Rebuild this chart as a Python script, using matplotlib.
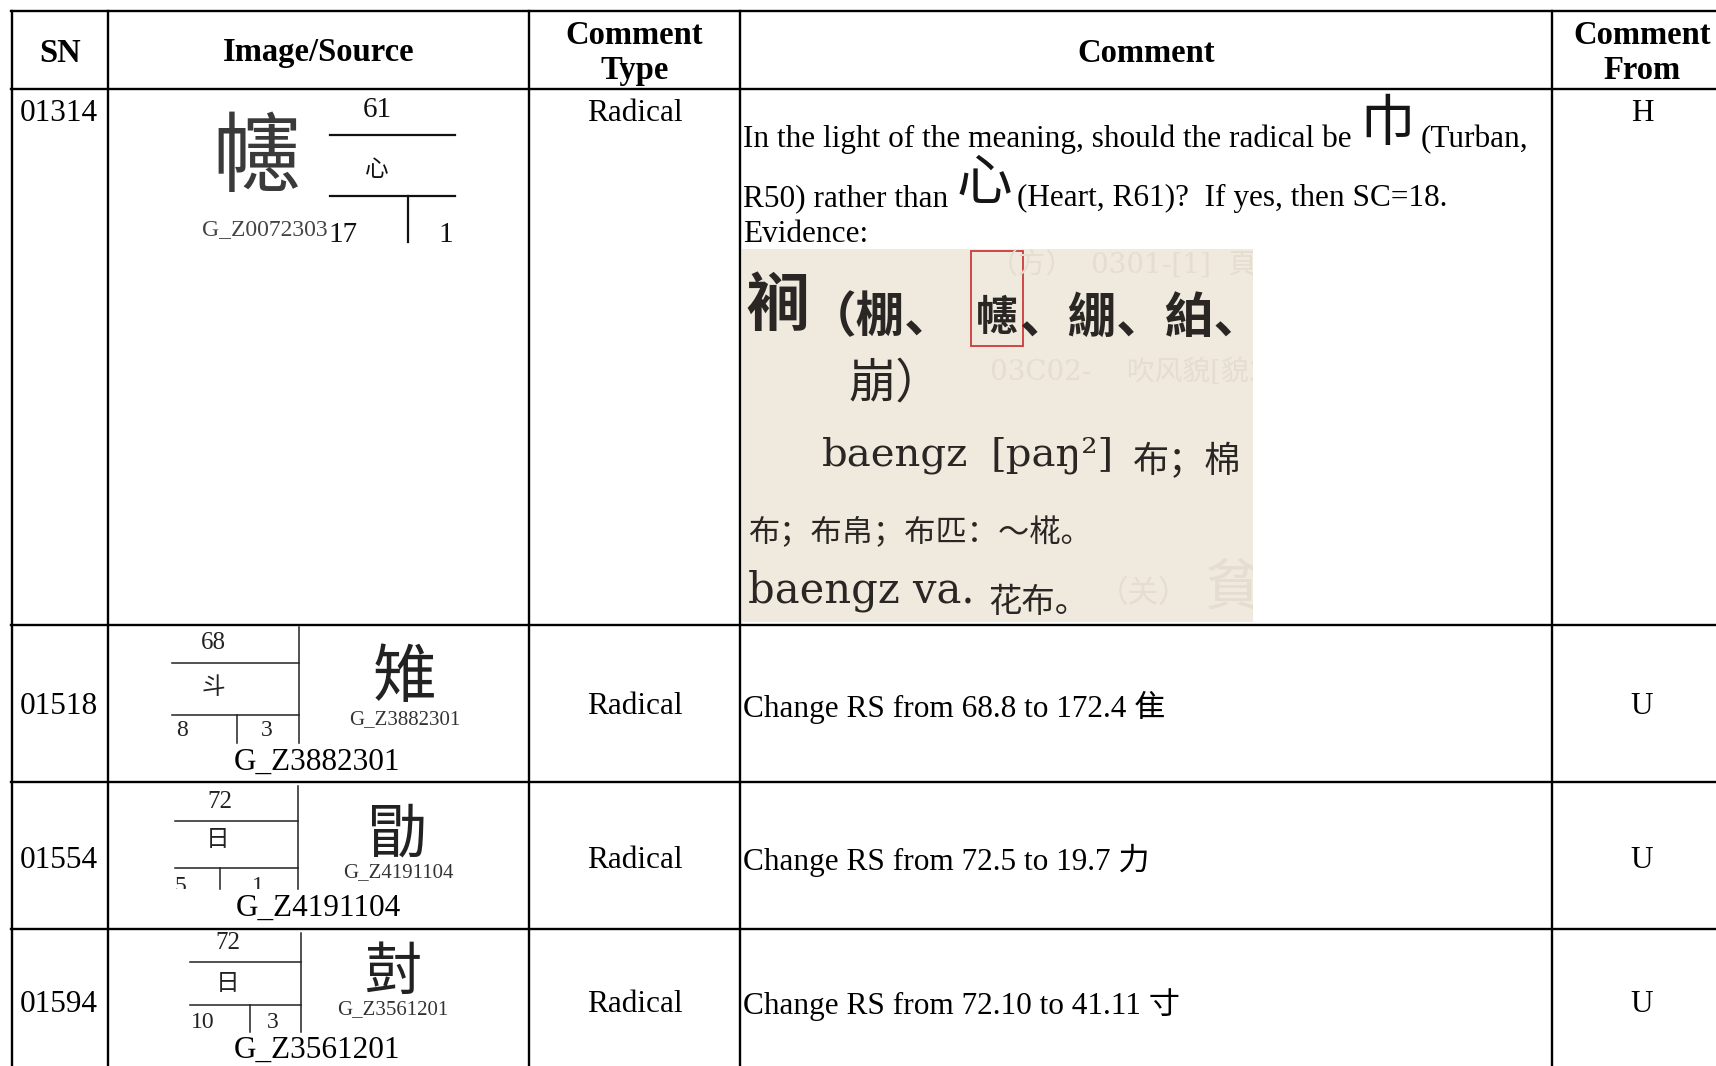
import matplotlib.pyplot as plt
from matplotlib.patches import Rectangle
from matplotlib.transforms import Bbox, TransformedBbox

plt.rcParams['font.family'] = ['Liberation Serif', 'Noto Sans CJK SC']

# ---- table content ----
headers = ["SN", "Image/Source", "Comment\nType", "Comment", "Comment\nFrom"]
sn = ["01314", "01518", "01554", "01594"]
source_codes = ["G_Z0072303", "G_Z3882301", "G_Z4191104", "G_Z3561201"]
glyphs = ["幰", "雉", "勖", "尌"]
rs_radical = ["61", "68", "72", "72"]
rs_radical_char = ["心", "斗", "日", "日"]
rs_strokes = ["17", "8", "5", "10"]
rs_first = ["1", "3", "1", "3"]
comment_type = ["Radical", "Radical", "Radical", "Radical"]
comments = [None,
            "Change RS from 68.8 to 172.4 隹",
            "Change RS from 72.5 to 19.7 力",
            "Change RS from 72.10 to 41.11 寸"]
comment_from = ["H", "U", "U", "U"]

# first comment has radical pictures inline ("g" pieces)
comment1_lines = [
    [("In the light of the meaning, should the radical be", "t"), ("巾", "g"), ("(Turban,", "t")],
    [("R50) rather than", "t"), ("心", "g"), ("(Heart, R61)?  If yes, then SC=18.", "t")],
    [("Evidence:", "t")],
]

# scanned dictionary entry used as evidence
ev_head = "裥"
ev_variants = ["（棚、", "幰", "、綳、絈、"]
ev_close = "崩）"
ev_roman = ["baengz", "[paŋ²]", "baengz va."]
ev_gloss = ["布；棉", "布；布帛；布匹：～椛。", "花布。"]
ev_faint = ["（方）  0301-[1]  頁", "03C02-    吹风貌[貌之一", "（关）", "貧"]

W, H = 1716, 1066
CJK = ['Noto Sans CJK SC']
BODY = 22.5

fig = plt.figure(figsize=(W / 100, H / 100), dpi=100)
ax = fig.add_axes([0, 0, 1, 1])
ax.set_xlim(0, W)
ax.set_ylim(H, 0)
ax.axis('off')
renderer = fig.canvas.get_renderer()

col_x = [12, 108, 529, 740, 1552, 1732]
row_y = [11, 89, 625, 782, 929, 1075]
col_mid = [(a + b) / 2 for a, b in zip(col_x[:-1], col_x[1:])]

# grid
for y in row_y[:-1]:
    ax.plot([col_x[0] - 1, W], [y, y], color='black', lw=1.7)
for x in col_x[:-1]:
    ax.plot([x, x], [row_y[0], H], color='black', lw=1.7)

# header
for cx, h in zip(col_mid, headers):
    ax.text(cx, 53, h, ha='center', va='center', fontsize=23.5,
            fontweight='bold', linespacing=1.15)

# plain cells
row_mid = [121, 707, 860, 1005]
for i in range(4):
    va = 'baseline' if i == 0 else 'center'
    y = row_mid[i]
    ax.text(20, y, sn[i], fontsize=BODY, va=va)
    ax.text(col_mid[2], y, comment_type[i], ha='center', fontsize=BODY, va=va)
    ax.text(col_mid[4], y, comment_from[i], ha='center', fontsize=BODY, va=va)
    if comments[i]:
        ax.text(743, y, comments[i], fontsize=BODY, va=va)

# first comment, flowed piece by piece
for base, line in zip([147, 206, 242], comment1_lines):
    x = 743
    for txt, kind in line:
        if kind == 't':
            t = ax.text(x, base, txt, fontsize=BODY, va='baseline')
            x += t.get_window_extent(renderer).width + 5
        else:
            t = ax.text(x + 3, base - 22, txt, family=CJK, fontsize=40,
                        fontweight='light', va='center', color='#151515')
            x += t.get_window_extent(renderer).width + 8

# evidence picture
ev_x0, ev_y0, ev_x1, ev_y1 = 742, 249, 1253, 622
ax.add_patch(Rectangle((ev_x0, ev_y0), ev_x1 - ev_x0, ev_y1 - ev_y0,
                       facecolor='#efe9de', edgecolor='none'))
ev_clip = TransformedBbox(Bbox([[ev_x0, ev_y0], [ev_x1, ev_y1]]), ax.transData)
faint_pos = [(990, 266, 20), (990, 372, 20), (1098, 594, 22), (1205, 590, 40)]
for s, (fx, fy, fs) in zip(ev_faint, faint_pos):
    t = ax.text(fx, fy, s, family=['DejaVu Serif', 'Noto Sans CJK SC'], fontsize=fs,
                va='center', color='#e4ddd0')
    t.set_clip_box(ev_clip)
    t.set_clip_on(True)
INKE = '#2a2623'
ax.text(777, 306, ev_head, family=CJK, fontsize=46, fontweight='bold',
        ha='center', va='center', color=INKE)
ax.text(808, 318, ev_variants[0], family=CJK, fontsize=35, fontweight='bold',
        va='center', color=INKE)
ax.text(997, 318, ev_variants[1], family=CJK, fontsize=30, fontweight='bold',
        ha='center', va='center', color=INKE)
ax.add_patch(Rectangle((971, 251), 52, 95, fill=False, edgecolor='#cc3b3b', lw=1.3))
ax.text(1019, 318, ev_variants[2], family=CJK, fontsize=35, fontweight='bold',
        va='center', color=INKE)
ax.text(848, 384, ev_close, family=CJK, fontsize=34, va='center', color=INKE)
ax.text(822, 466, ev_roman[0], family='DejaVu Serif', fontsize=29, va='baseline', color=INKE)
ax.text(990, 466, ev_roman[1], family='DejaVu Serif', fontsize=29, va='baseline', color=INKE)
ax.text(1133, 472, ev_gloss[0], family=CJK, fontsize=26, va='baseline', color=INKE)
ax.text(748, 533, ev_gloss[1], family=CJK, fontsize=22.5, va='center', color=INKE)
ax.text(748, 603, ev_roman[2], family='DejaVu Serif', fontsize=30, va='baseline', color=INKE)
ax.text(988, 612, ev_gloss[2], family=CJK, fontsize=24, va='baseline', color=INKE)

# image/source cell of the first row (glyph left, RS box right)
GRAY = '#3a3a3a'
ax.text(256, 160, glyphs[0], family=CJK, fontsize=63, fontweight='light',
        ha='center', va='center', color=GRAY)
ax.text(328, 230, source_codes[0], fontsize=17, ha='right', va='center', color='#444')
for yy in (135, 196):
    ax.plot([330, 455], [yy, yy], color='#111', lw=1.6)
ax.plot([408, 408], [196, 242], color='#111', lw=1.6)
ax.text(377, 110, rs_radical[0], fontsize=21, ha='center', va='center', color='#111')
ax.text(377, 169, rs_radical_char[0], family=CJK, fontsize=17, ha='center', va='center', color='#111')
ax.text(343, 242, rs_strokes[0], fontsize=21, ha='center', va='baseline', color='#111')
ax.text(446, 242, rs_first[0], fontsize=21, ha='center', va='baseline', color='#111')

# image/source cells of the other rows (RS box left, glyph right, code below)
rs_layout = [
    None,
    dict(x0=157, x1=299, vtop=627, top=663, mid=715, bot=743, div=237,
         num=(213, 643), rad=(213, 688), sa=(182, 731), sb=(267, 731),
         gl=(405, 679), sc=(405, 720), bc=(317, 762), gfs=46),
    dict(x0=160, x1=298, vtop=786, top=821, mid=868, bot=889, div=220,
         num=(220, 802), rad=(218, 840), sa=(180, 886), sb=(258, 886),
         gl=(398, 836), sc=(398, 873), bc=(318, 908), gfs=43),
    dict(x0=175, x1=301, vtop=933, top=962, mid=1005, bot=1032, div=250,
         num=(228, 943), rad=(228, 983), sa=(203, 1023), sb=(273, 1023),
         gl=(393, 973), sc=(393, 1010), bc=(317, 1050), gfs=41),
]
for i in range(1, 4):
    L = rs_layout[i]
    clip = TransformedBbox(Bbox([[L['x0'] - 10, L['vtop']], [L['x1'] + 3, L['bot']]]), ax.transData)
    lx0 = L['x0'] + 15
    for yy in (L['top'], L['mid']):
        ax.plot([lx0, L['x1']], [yy, yy], color='#222', lw=1.1)
    ax.plot([L['x1'], L['x1']], [L['vtop'], L['bot']], color='#222', lw=1.1)
    ax.plot([L['div'], L['div']], [L['mid'], L['bot']], color='#222', lw=1.1)
    ax.text(*L['num'], rs_radical[i], fontsize=18, ha='center', va='center', color='#222')
    ax.text(*L['rad'], rs_radical_char[i], family=CJK, fontsize=17, ha='center', va='center', color='#222')
    for pos, s in ((L['sa'], rs_strokes[i]), (L['sb'], rs_first[i])):
        t = ax.text(*pos, s, fontsize=17, ha='center', va='center', color='#222')
        t.set_clip_box(clip)
        t.set_clip_on(True)
    ax.text(*L['gl'], glyphs[i], family=CJK, fontsize=L['gfs'], fontweight='light',
            ha='center', va='center', color='#222')
    ax.text(*L['sc'], source_codes[i], fontsize=15, ha='center', va='center', color='#333')
    ax.text(*L['bc'], source_codes[i], fontsize=BODY, ha='center', va='center')

fig.savefig('out.png', dpi=100)
